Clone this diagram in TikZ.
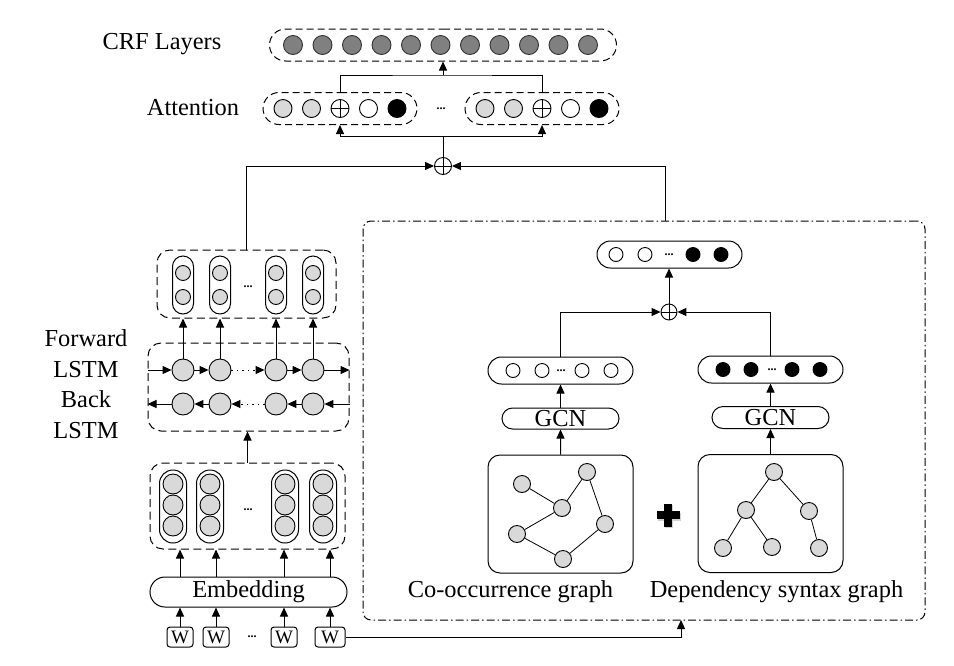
\documentclass[tikz,border=0pt]{standalone}
\usepackage{fontspec}
\setmainfont{Liberation Serif}
\usetikzlibrary{arrows.meta, positioning, shapes.misc}

\definecolor{cellgrey}{RGB}{217,217,217}
\definecolor{crfgrey}{RGB}{128,128,128}

\begin{document}
\begin{tikzpicture}[
    x=1pt, y=-1pt, line width=1pt,
    lbl/.style={font=\fontsize{24.4}{30.7}\selectfont, inner sep=0pt},
    ellip/.style={font=\fontsize{12}{12}\selectfont\bfseries, inner sep=0pt},
    cell/.style={circle, draw, line width=0.9pt, inner sep=0pt, minimum size=18pt},
    greycell/.style={cell, fill=cellgrey},
    crfcell/.style={cell, fill=crfgrey, draw=black!80, minimum size=19pt},
    blackcell/.style={cell, fill=black},
    sumcell/.style={cell, path picture={\draw[line width=0.9pt] (path picture bounding box.north) -- (path picture bounding box.south) (path picture bounding box.west) -- (path picture bounding box.east);}},
    dashpill/.style={draw, rounded rectangle, dash pattern=on 7pt off 4pt, inner sep=0pt, minimum height=32pt},
    dashbox/.style={draw, rounded corners=13pt, dash pattern=on 8pt off 4.5pt, inner sep=0pt},
    pill/.style={draw, rounded rectangle, inner sep=0pt},
    capsule/.style={draw, inner sep=0pt},
    wbox/.style={draw, rounded corners=3pt, minimum width=26pt, minimum height=20pt, inner sep=0pt, font=\fontsize{19}{19}\selectfont},
    link/.style={-{Triangle[length=9pt, width=8pt]}},
]
  \useasboundingbox (0,0) rectangle (954,665);

  % CRF and attention layers
  \node[lbl] (crflabel) at (162,44) {CRF Layers};
  \node[dashpill, minimum width=347pt] (crfbox) at (443,45) {};
  \node[crfcell] (crf1) at (293,45) {};   \node[crfcell] (crf2) at (322.5,45) {};
  \node[crfcell] (crf3) at (352,45) {};   \node[crfcell] (crf4) at (381.5,45) {};
  \node[crfcell] (crf5) at (411,45) {};   \node[crfcell] (crf6) at (440.5,45) {};
  \node[crfcell] (crf7) at (470,45) {};   \node[crfcell] (crf8) at (499.5,45) {};
  \node[crfcell] (crf9) at (529,45) {};   \node[crfcell] (crf10) at (558.5,45) {};
  \node[crfcell] (crf11) at (588,45) {};

  \node[lbl] (attlabel) at (193,108) {Attention};
  \node[dashpill, minimum width=154pt] (attL) at (340,108.5) {};
  \node[dashpill, minimum width=154pt] (attR) at (542,108.5) {};
  \node[greycell] (attL1) at (283,108.5) {};
  \node[greycell] (attL2) at (311.5,108.5) {};
  \node[sumcell] (attL3) at (340,108.5) {};
  \node[cell] (attL4) at (368.5,108.5) {};
  \node[blackcell] (attL5) at (397,108.5) {};
  \node[greycell] (attR1) at (485,108.5) {};
  \node[greycell] (attR2) at (513.5,108.5) {};
  \node[sumcell] (attR3) at (542,108.5) {};
  \node[cell] (attR4) at (570.5,108.5) {};
  \node[blackcell] (attR5) at (599,108.5) {};
  \node[ellip] (attdots) at (441,109) {...};

  \coordinate (crfjoin) at (443,75);
  \draw (attL.north -| attL3) |- (crfjoin) -| (attR.north -| attR3);
  \draw[link] (crfjoin) -- (crfbox.south);

  \node[sumcell, minimum size=17pt] (sum1) at (443,166) {};
  \coordinate (attsplit) at (443,136);
  \draw (sum1.north) -- (attsplit);
  \draw[link] (attsplit) -| (attL.south -| attL3);
  \draw[link] (attsplit) -| (attR.south -| attR3);

  % BiLSTM branch
  \node[lbl, align=center] (lstmlabel) at (86,384) {Forward\\LSTM\\Back\\LSTM};
  \node[dashbox, minimum width=179pt, minimum height=68pt] (lstmout) at (246.5,284) {};
  \node[capsule, rounded corners=10.5pt, minimum width=21pt, minimum height=58pt] (hcap1) at (183,285) {};
  \node[capsule, rounded corners=10.5pt, minimum width=21pt, minimum height=58pt] (hcap2) at (220,285) {};
  \node[capsule, rounded corners=10.5pt, minimum width=21pt, minimum height=58pt] (hcap3) at (276,285) {};
  \node[capsule, rounded corners=10.5pt, minimum width=21pt, minimum height=58pt] (hcap4) at (313,285) {};
  \node[greycell, minimum size=15pt] (h1a) at (183,273) {}; \node[greycell, minimum size=15pt] (h1b) at (183,297) {};
  \node[greycell, minimum size=15pt] (h2a) at (220,273) {}; \node[greycell, minimum size=15pt] (h2b) at (220,297) {};
  \node[greycell, minimum size=15pt] (h3a) at (276,273) {}; \node[greycell, minimum size=15pt] (h3b) at (276,297) {};
  \node[greycell, minimum size=15pt] (h4a) at (313,273) {}; \node[greycell, minimum size=15pt] (h4b) at (313,297) {};
  \node[ellip] (hdots) at (248,287) {...};

  \node[dashbox, minimum width=201pt, minimum height=88pt] (lstmbox) at (248.5,387) {};
  \node[greycell, minimum size=22pt] (fw1) at (183,370) {};
  \node[greycell, minimum size=22pt] (fw2) at (220,370) {};
  \node[greycell, minimum size=22pt] (fw3) at (276,370) {};
  \node[greycell, minimum size=22pt] (fw4) at (313,370) {};
  \node[greycell, minimum size=22pt] (bw1) at (183,404) {};
  \node[greycell, minimum size=22pt] (bw2) at (220,404) {};
  \node[greycell, minimum size=22pt] (bw3) at (276,404) {};
  \node[greycell, minimum size=22pt] (bw4) at (313,404) {};

  \draw[link] (lstmbox.west |- fw1) -- (fw1);
  \draw[link] (fw1) -- (fw2);
  \draw[link, dash pattern=on 1.5pt off 4pt] (fw2) -- (fw3);
  \draw[link] (fw3) -- (fw4);
  \draw[link] (fw4) -- (lstmbox.east |- fw4);
  \draw[link] (lstmbox.east |- bw4) -- (bw4);
  \draw[link] (bw4) -- (bw3);
  \draw[link, dash pattern=on 1.5pt off 4pt] (bw3) -- (bw2);
  \draw[link] (bw2) -- (bw1);
  \draw[link] (bw1) -- (lstmbox.west |- bw1);
  \draw[link] (fw1) -- (lstmout.south -| fw1);
  \draw[link] (fw2) -- (lstmout.south -| fw2);
  \draw[link] (fw3) -- (lstmout.south -| fw3);
  \draw[link] (fw4) -- (lstmout.south -| fw4);
  \draw[link] (lstmout.north) |- (sum1.west);

  % embedding
  \node[dashbox, minimum width=195pt, minimum height=86pt] (embbox) at (247.5,506) {};
  \node[capsule, rounded corners=13.5pt, minimum width=27pt, minimum height=73pt] (ecap1) at (173,506.5) {};
  \node[capsule, rounded corners=13.5pt, minimum width=27pt, minimum height=73pt] (ecap2) at (210,506.5) {};
  \node[capsule, rounded corners=13.5pt, minimum width=27pt, minimum height=73pt] (ecap3) at (285,506.5) {};
  \node[capsule, rounded corners=13.5pt, minimum width=27pt, minimum height=73pt] (ecap4) at (323,506.5) {};
  \node[greycell, minimum size=20pt] (e1a) at (173,484) {}; \node[greycell, minimum size=20pt] (e1b) at (173,505) {};
  \node[greycell, minimum size=20pt] (e1c) at (173,526) {};
  \node[greycell, minimum size=20pt] (e2a) at (210,484) {}; \node[greycell, minimum size=20pt] (e2b) at (210,505) {};
  \node[greycell, minimum size=20pt] (e2c) at (210,526) {};
  \node[greycell, minimum size=20pt] (e3a) at (285,484) {}; \node[greycell, minimum size=20pt] (e3b) at (285,505) {};
  \node[greycell, minimum size=20pt] (e3c) at (285,526) {};
  \node[greycell, minimum size=20pt] (e4a) at (323,484) {}; \node[greycell, minimum size=20pt] (e4b) at (323,505) {};
  \node[greycell, minimum size=20pt] (e4c) at (323,526) {};
  \node[ellip] (edots) at (248,510) {...};
  \draw[link] (embbox.north) -- (lstmbox.south -| embbox.north);

  \node[pill, lbl, draw, minimum width=197pt, minimum height=30pt] (emb) at (248.5,592) {Embedding};
  \node[wbox] (w1) at (180,637) {W};
  \node[wbox] (w2) at (216,637) {W};
  \node[wbox] (w3) at (284,637) {W};
  \node[wbox, minimum width=30pt] (w4) at (330,637) {W};
  \node[ellip] (wdots) at (252,637) {...};
  \draw[link] (w1) -- (emb.south -| w1);
  \draw[link] (w2) -- (emb.south -| w2);
  \draw[link] (w3) -- (emb.south -| w3);
  \draw[link] (w4) -- (emb.south -| w4);
  \draw[link] (emb.north -| w1) -- (embbox.south -| w1);
  \draw[link] (emb.north -| w2) -- (embbox.south -| w2);
  \draw[link] (emb.north -| w3) -- (embbox.south -| w3);
  \draw[link] (emb.north -| w4) -- (embbox.south -| w4);

  % graph branch
  \node[draw, rounded corners=8pt, dash pattern=on 8pt off 3pt on 1.5pt off 3pt, minimum width=562pt, minimum height=399pt] (graphbox) at (644,420.5) {};
  \coordinate (gtop) at (665,221);
  \coordinate (gin) at (681,620);
  \draw[link] (gtop) |- (sum1.east);
  \draw[link] (w4.east) -| (gin);

  \node[pill, minimum width=145pt, minimum height=27pt] (gout) at (669.5,254.5) {};
  \node[cell, minimum size=14pt] (go1) at (616,254.5) {};
  \node[cell, minimum size=14pt] (go2) at (645,254.5) {};
  \node[ellip] (godots) at (669,254.5) {...};
  \node[blackcell, minimum size=14pt] (go3) at (693,254.5) {};
  \node[blackcell, minimum size=14pt] (go4) at (721,254.5) {};
  \node[sumcell, minimum size=16pt] (sum2) at (669,312) {};
  \draw[link] (sum2) -- (gout.south -| sum2);

  \node[pill, minimum width=145pt, minimum height=27pt] (coout) at (560.5,370.5) {};
  \node[cell, minimum size=14pt] (co1o) at (513,370.5) {};
  \node[cell, minimum size=14pt] (co2o) at (542,370.5) {};
  \node[ellip] (codots) at (561,370.5) {...};
  \node[cell, minimum size=14pt] (co3o) at (582,370.5) {};
  \node[cell, minimum size=14pt] (co4o) at (611,370.5) {};
  \node[pill, minimum width=145pt, minimum height=27pt] (depout) at (770.5,369.5) {};
  \node[blackcell, minimum size=14pt] (dep1o) at (723,369.5) {};
  \node[blackcell, minimum size=14pt] (dep2o) at (751,369.5) {};
  \node[ellip] (depdots) at (772,369.5) {...};
  \node[blackcell, minimum size=14pt] (dep3o) at (792,369.5) {};
  \node[blackcell, minimum size=14pt] (dep4o) at (820,369.5) {};
  \draw[link] (coout.north) |- (sum2.west);
  \draw[link] (depout.north) |- (sum2.east);

  \node[pill, lbl, draw, minimum width=117pt, minimum height=21pt] (cogcn) at (560.5,418.5) {GCN};
  \node[pill, lbl, draw, minimum width=117pt, minimum height=22pt] (depgcn) at (770.5,417.5) {GCN};
  \draw[link] (cogcn) -- (coout);
  \draw[link] (depgcn) -- (depout);

  \node[draw, rounded corners=12pt, minimum width=145pt, minimum height=118pt] (cograph) at (560.5,514) {};
  \node[draw, rounded corners=12pt, minimum width=145pt, minimum height=118pt] (depgraph) at (770.5,513.5) {};
  \draw[link] (cograph) -- (cogcn);
  \draw[link] (depgraph) -- (depgcn);

  \node[greycell, minimum size=17pt] (co1) at (522,484) {};
  \node[greycell, minimum size=17pt] (co2) at (587,472) {};
  \node[greycell, minimum size=17pt] (co3) at (562,508) {};
  \node[greycell, minimum size=17pt] (co4) at (517,534) {};
  \node[greycell, minimum size=17pt] (co5) at (605,524) {};
  \node[greycell, minimum size=17pt] (co6) at (563,559) {};
  \draw[line width=0.8pt] (co1) -- (co3) -- (co2) -- (co5) -- (co6) -- (co4) -- (co3);

  \node[greycell, minimum size=17pt] (dep1) at (774,472) {};
  \node[greycell, minimum size=17pt] (dep2) at (746,510) {};
  \node[greycell, minimum size=17pt] (dep3) at (809,511) {};
  \node[greycell, minimum size=17pt] (dep4) at (723,548) {};
  \node[greycell, minimum size=17pt] (dep5) at (772,547) {};
  \node[greycell, minimum size=17pt] (dep6) at (819,548) {};
  \draw[line width=0.8pt] (dep2) -- (dep1) -- (dep3) -- (dep6);
  \draw[line width=0.8pt] (dep4) -- (dep2) -- (dep5);

  \fill[gray!35] (657.5,512.5) rectangle (680.5,520.5);
  \fill[gray!35] (665,505) rectangle (673,528);
  \fill (656.5,511) rectangle (679.5,519);
  \fill (664,503.5) rectangle (672,526.5);

  \node[lbl] (colabel) at (510.5,592) {Co-occurrence graph};
  \node[lbl] (deplabel) at (776.5,592) {Dependency syntax graph};
\end{tikzpicture}
\end{document}
